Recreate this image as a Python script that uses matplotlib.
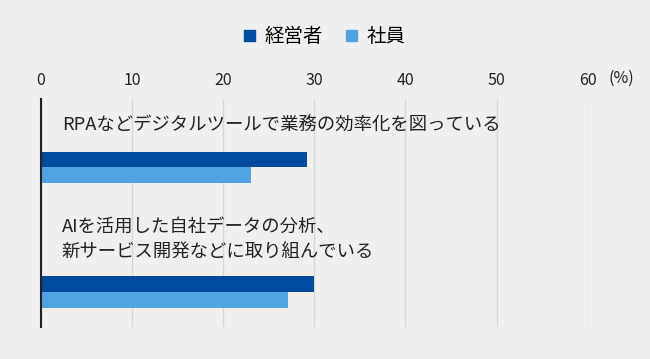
import numpy as np
import matplotlib.pyplot as plt
from matplotlib.patches import Patch

plt.rcParams['font.family'] = ['Noto Sans CJK JP', 'DejaVu Sans']

# data
categories = ["RPAなどデジタルツールで業務の効率化を図っている",
              "AIを活用した自社データの分析、\n新サービス開発などに取り組んでいる"]
series_names = ["経営者", "社員"]
keieisha = [29.2, 30.0]
shain = [23.0, 27.1]
xticks = [0, 10, 20, 30, 40, 50, 60]

bg = '#efefef'
dark = '#004b9e'
light = '#4fa3e0'

fig = plt.figure(figsize=(6.5, 3.59), dpi=100, facecolor=bg)
ax = fig.add_axes([41/650, 1-327/359, (587.6-41)/650, 228/359])
ax.set_facecolor(bg)

y = np.arange(len(categories))
h = 0.126
ax.barh(y - h/2, keieisha, height=h, color=dark, zorder=3)
ax.barh(y + h/2, shain, height=h, color=light, zorder=3)

ax.set_xlim(0, 60)
ax.set_ylim(1.281, -0.55)

# category labels above each group
label_off = [-0.333, -0.425]
for i, (cat, off) in enumerate(zip(categories, label_off)):
    ax.text(2.3, i + off, cat, fontsize=13.2, color='#222222',
            va='center', ha='left', linespacing=1.5)

ax.xaxis.tick_top()
ax.set_xticks(xticks)
ax.set_xticklabels([str(t) for t in xticks], fontsize=11.5, color='#222222')
ax.tick_params(axis='x', length=0, pad=7.5)
ax.set_yticks([])
ax.grid(axis='x', color='#d6d6d6', linewidth=1, zorder=0)
for s in ['top', 'right', 'bottom']:
    ax.spines[s].set_visible(False)
ax.spines['left'].set_color('#222222')
ax.spines['left'].set_linewidth(1.5)
ax.spines['left'].set_zorder(4)

fig.text(609/650, 1-78/359, "(%)", fontsize=11.5, color='#222222',
         ha='left', va='center')

handles = [Patch(color=dark), Patch(color=light)]
fig.legend(handles, series_names, loc='center', bbox_to_anchor=(325/650, 1-37/359),
           ncol=2, frameon=False, fontsize=14, handlelength=0.55, handleheight=0.55,
           handletextpad=0.5, columnspacing=1.2, borderpad=0, borderaxespad=0)

fig.savefig('out.png', dpi=100, facecolor=bg)
